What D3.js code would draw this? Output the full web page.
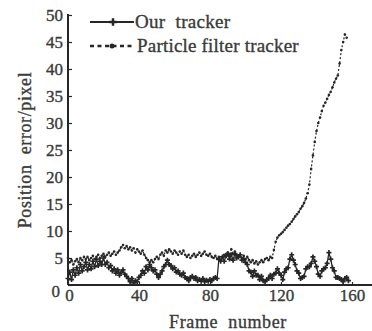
<!DOCTYPE html>
<html><head><meta charset="utf-8">
<script src="https://cdn.jsdelivr.net/npm/d3@7"></script>
<style>
html,body{margin:0;padding:0;background:#fff;}
svg{display:block;}
text{font-family:"Liberation Serif","Times New Roman",serif;fill:#3a3a3a;stroke:#3a3a3a;stroke-width:0.35px;white-space:pre;}
</style></head>
<body>
<svg id="c" width="372" height="331"></svg>
<script>
// ---- data ----
const xTicks = [0, 40, 80, 120, 160];
const yTicks = [0, 5, 10, 15, 20, 25, 30, 35, 40, 45, 50];
const seriesNames = ["Our  tracker", "Particle filter tracker"];
const ourTracker = [
 1.2,2.4,1.0,2.8,1.8,3.2,2.2,3.8,2.6,3.4,
 4.2,2.8,3.8,3.0,4.4,3.4,4.8,3.6,4.4,3.8,
 5.0,3.8,4.2,3.2,3.6,2.6,3.0,2.2,2.8,1.8,
 2.4,2.8,2,1.6,1.2,0.6,1.2,0.4,0.8,0.6,
 1.4,1.8,2.6,2.2,3.4,2.8,3.8,3.2,2.6,2.8,
 2,1.4,2.0,2.6,3.4,3.8,4.6,3.8,3.6,3.0,
 3.2,2.4,2.6,2.0,1.8,2.2,1.4,1.2,0.8,1.4,
 1.6,1.2,1.4,0.8,1.0,0.7,1.2,0.6,0.9,0.7,
 1.0,0.8,1.2,1.4,1.2,4.8,4.4,5.2,4.4,5.4,
 5.8,4.8,5.6,4.6,5.8,5.0,5.2,5.6,4.6,4.8,
 4.2,3.8,2.6,2.4,1.6,2.6,1.8,1.8,1.0,1.6,
 0.8,0.6,1.0,1.2,1.8,1.2,2.0,2.2,3.0,2.2,
 1.8,1.0,2.4,3.0,3.2,4.8,5.6,4.6,3.8,2.6,
 2.2,1.2,1.4,1.6,3.0,3.4,3.4,4.0,5.2,4.4,
 3.4,2.0,1.6,2.6,3.0,3.2,4.0,6.0,4.8,3.2,
 2.6,1.4,1.4,1.2,1.0,0.6,1.2,1.4,0.8
];
const particleFilter = [
 5,4.2,4.6,3.8,4.4,4.8,4.2,5,4.6,5.2,
 4.8,5.2,4.6,5,5.4,4.8,5.2,5.6,5,5.4,
 5.8,5.2,5.6,6,5.4,5.8,6.2,5.6,6,6.4,
 7,7.4,6.8,7.2,6.6,7,6.4,6.8,6,6.6,
 6.2,5.8,6.4,5.6,5,4.6,4.2,4.6,4.2,4.8,
 5.2,4.8,5.6,6,5.4,6.4,6,6.6,6.2,5.8,
 6.4,6,5.6,6.2,5.8,6.4,5.6,5.2,5.6,5,
 5.4,5.8,5.2,5.6,6,5.4,5.8,6.2,5.6,5.4,
 5.8,5.2,5,5.4,4.8,5.2,4.6,5,5.6,5.2,
 6,5.4,6.6,5.8,6.2,5.6,5.2,5.6,5,5.4,
 4.8,5.2,4.6,4.2,4.6,4,4.4,3.8,4.2,4.6,
 4.2,4.8,5,4.6,5.2,5,6.5,8,8.8,9.2,
 9.5,9.8,10.2,10.6,11,11.3,11.7,12.2,12.7,13.1,
 13.5,14.1,14.6,15.2,16,17,18.6,21.5,24,26.5,
 28.5,30,31,32.2,33.2,33.8,34.5,35.2,35.8,36.6,
 37.5,38.2,38.8,41,43.5,45,46.4,45.8
];
const frames = ourTracker.map((d, i) => i);

// ---- layout ----
const svg = d3.select("#c");
const x = d3.scaleLinear().domain([0, 160]).range([68, 352]);
const y = d3.scaleLinear().domain([0, 50]).range([285, 15]);
const ink = "#262626";

// axes
const gx = svg.append("g").attr("transform", "translate(0,285)")
  .call(d3.axisBottom(x).tickValues(xTicks).tickSize(-3).tickPadding(4));
const gy = svg.append("g").attr("transform", "translate(68,0)")
  .call(d3.axisLeft(y).tickValues(yTicks).tickSize(-4).tickPadding(5));
[gx, gy].forEach(g => {
  g.select(".domain").remove();
  g.selectAll(".tick line").attr("stroke", ink).attr("stroke-width", 1.2);
  g.selectAll(".tick text").style("font-size", "17px").attr("fill", "#3a3a3a")
   .style("font-family", '"Liberation Serif",serif');
});
gy.selectAll(".tick").filter(d => d === 0).select("text").attr("dy", "0.7em").attr("x", -8);
gx.selectAll(".tick").filter(d => d === 0).select("text").attr("x", 1);
svg.append("line").attr("x1", 68).attr("x2", 372).attr("y1", 285).attr("y2", 285)
  .attr("stroke", ink).attr("stroke-width", 2);
svg.append("line").attr("x1", 68).attr("x2", 68).attr("y1", 285).attr("y2", 14)
  .attr("stroke", ink).attr("stroke-width", 2);

// axis titles
svg.append("text").attr("x", 228).attr("y", 328).attr("text-anchor", "middle")
  .style("font-size", "18px").style("letter-spacing", "0.6px").text("Frame  number");
svg.append("text").attr("transform", "translate(31,150) rotate(-90)")
  .attr("text-anchor", "middle").style("font-size", "18px").style("letter-spacing", "0.6px")
  .text("Position  error/pixel");

// series
const line = d3.line().x((d, i) => x(frames[i])).y(d => y(d));
svg.append("path").datum(ourTracker).attr("d", line)
  .attr("fill", "none").attr("stroke", ink).attr("stroke-width", 1.3);
svg.append("g").selectAll("path").data(ourTracker).join("path")
  .attr("transform", (d, i) => `translate(${x(frames[i])},${y(d)})`)
  .attr("d", d3.symbol().type(d3.symbolCross).size(14))
  .attr("fill", ink);

svg.append("path").datum(particleFilter).attr("d", line)
  .attr("fill", "none").attr("stroke", ink).attr("stroke-width", 1.2)
  .attr("stroke-dasharray", "2,2");
svg.append("g").selectAll("circle").data(particleFilter).join("circle")
  .attr("cx", (d, i) => x(frames[i])).attr("cy", d => y(d)).attr("r", 1.3)
  .attr("fill", ink);

// legend
const lg = svg.append("g");
lg.append("line").attr("x1", 90).attr("x2", 134).attr("y1", 22).attr("y2", 22)
  .attr("stroke", ink).attr("stroke-width", 2);
lg.append("path").attr("transform", "translate(113,22)")
  .attr("d", d3.symbol().type(d3.symbolCross).size(30)).attr("fill", ink);
lg.append("text").attr("x", 135).attr("y", 28).style("font-size", "19px")
  .style("letter-spacing", "0.3px").text(seriesNames[0]);
lg.append("line").attr("x1", 90).attr("x2", 134).attr("y1", 46).attr("y2", 46)
  .attr("stroke", ink).attr("stroke-width", 2.5).attr("stroke-dasharray", "4,3.5");
lg.append("circle").attr("cx", 112).attr("cy", 46).attr("r", 2.5).attr("fill", ink);
lg.append("text").attr("x", 137).attr("y", 52).style("font-size", "19px")
  .style("letter-spacing", "0.2px").text(seriesNames[1]);
</script>
</body></html>
